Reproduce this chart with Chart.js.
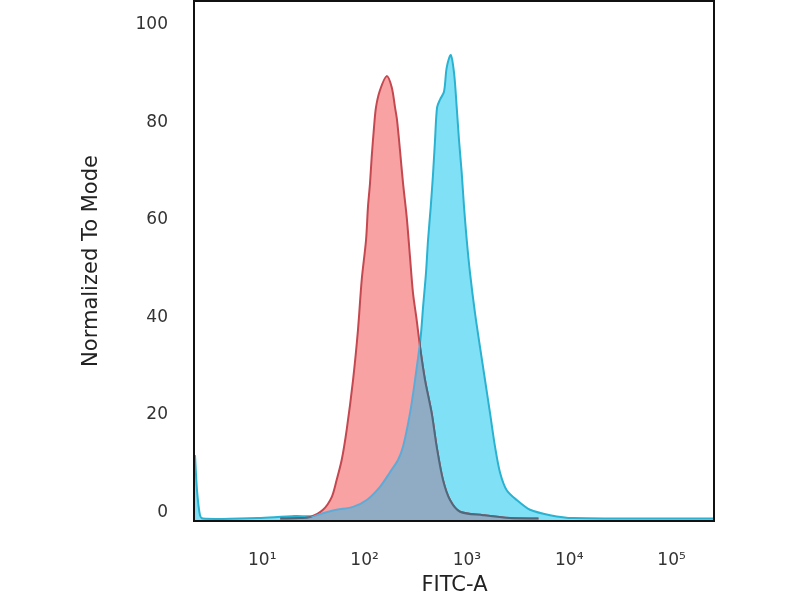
<!DOCTYPE html>
<html lang="en">
<head>
  <meta charset="UTF-8">
  <title>FITC-A histogram</title>
  <script src="https://cdn.jsdelivr.net/npm/chart.js"></script>
  <style>
    html, body { margin: 0; padding: 0; background: #fff; }
    #chart { display: block; }
  </style>
</head>
<body>
  <canvas id="chart" width="800" height="600"></canvas>

  <script>
// Isotype control (red) - FITC-A value and normalized count
const redX = [15, 23.4, 29.3, 39.2, 47.7, 53.3, 59.7, 66.8, 77.1, 86.1, 93.7, 103.3, 107.9, 113, 117.3, 123.6,
  129.2, 141.3, 164.4, 184.1, 198.3, 207.5, 221.8, 237.3, 258, 277.9, 297.3, 322.9, 348.1, 389.4, 452.6,
  506.8, 583.8, 683.5, 857, 1436, 2636, 5000];
const redY = [0, 0.1, 0.3, 1.8, 4.4, 7.9, 12.0, 18.2, 28.4, 38.6, 48.9, 57.1, 63.9, 68.8, 74.1, 80.2,
  84.3, 87.8, 90.7, 88.4, 84.3, 81.7, 75.5, 68.8, 61.8, 53.6, 46.2, 40.7, 35.2, 28.4, 21.6,
  14.7, 7.9, 3.8, 1.4, 0.7, 0.1, 0];

// Stained sample (cyan)
const blueX = [2.2, 2.3, 2.46, 2.63, 6.05, 9.08, 20.9, 31.3, 39.2, 53.3, 77.1, 105, 141.3, 177, 212, 237.3,
  277.9, 311, 353, 372.6, 398, 417, 443, 467, 488, 511, 546, 597, 635, 695, 749, 795, 837, 890, 937,
  996, 1073, 1200, 1342, 1503, 1683, 1884, 2109, 2450, 3069, 4140, 6491, 10890, 260000];
const blueY = [13.0, 5.9, 0.7, 0, 0, 0.1, 0.5, 0.5, 1.1, 1.8, 2.4, 3.8, 6.5, 9.5, 12.0, 14.7,
  21.6, 28.4, 37.2, 43.3, 50.3, 57.1, 63.9, 70.8, 77.6, 84.3, 85.9, 87.5, 92.5, 95.0, 91.3, 84.3, 77.6, 70.8, 63.9,
  57.1, 50.3, 42.1, 35.2, 28.4, 21.6, 14.7, 9.4, 5.8, 3.8, 1.8, 0.7, 0.1, 0];

const xTicks = [10, 100, 1000, 10000, 100000];
const yTicks = [0, 20, 40, 60, 80, 100];
const supers = ['⁰', '¹', '²', '³', '⁴', '⁵'];

const toPoints = (xs, ys) => xs.map((x, i) => ({ x: x, y: ys[i] }));

// where the two histograms overlap, paint a grey-blue and re-stroke the edges
const overlap = {
  id: 'overlap',
  afterDatasetsDraw(chart) {
    const ctx = chart.ctx;
    const a = chart.chartArea;
    const red = chart.getDatasetMeta(0).dataset;
    const blue = chart.getDatasetMeta(1).dataset;
    const area = (line) => {
      const pts = line.points;
      ctx.beginPath();
      line.path(ctx);
      ctx.lineTo(pts[pts.length - 1].x, a.bottom);
      ctx.lineTo(pts[0].x, a.bottom);
      ctx.closePath();
    };
    ctx.save();
    ctx.beginPath();
    ctx.rect(a.left, a.top, a.right - a.left, a.bottom - a.top);
    ctx.clip();
    ctx.lineWidth = 2;
    ctx.lineJoin = 'round';

    ctx.save();
    area(red);
    ctx.clip();
    area(blue);
    ctx.fillStyle = 'rgb(143, 172, 196)';
    ctx.fill();
    ctx.restore();

    ctx.save();
    area(blue);
    ctx.clip();
    ctx.beginPath();
    red.path(ctx);
    ctx.strokeStyle = 'rgb(80, 104, 124)';
    ctx.stroke();
    ctx.restore();

    ctx.save();
    area(red);
    ctx.clip();
    ctx.beginPath();
    blue.path(ctx);
    ctx.strokeStyle = 'rgb(96, 170, 214)';
    ctx.stroke();
    ctx.restore();

    ctx.restore();
  }
};

// black frame round the plot
const frame = {
  id: 'frame',
  afterDraw(chart) {
    const a = chart.chartArea;
    const ctx = chart.ctx;
    ctx.save();
    ctx.strokeStyle = '#111';
    ctx.lineWidth = 2;
    ctx.strokeRect(a.left - 1, a.top, a.right - a.left + 1, a.bottom - a.top);
    ctx.restore();
  }
};

new Chart(document.getElementById('chart'), {
  type: 'line',
  data: {
    datasets: [
      {
        label: 'Isotype',
        data: toPoints(redX, redY),
        borderColor: 'rgb(196, 72, 80)',
        backgroundColor: 'rgb(248, 162, 164)',
        borderWidth: 2,
        fill: 'start',
        pointRadius: 0,
        tension: 0.3
      },
      {
        label: 'Sample',
        data: toPoints(blueX, blueY),
        borderColor: 'rgb(42, 178, 208)',
        backgroundColor: 'rgb(128, 224, 246)',
        borderWidth: 2,
        fill: 'start',
        pointRadius: 0,
        tension: 0.3
      }
    ]
  },
  options: {
    responsive: false,
    animation: false,
    layout: { padding: { left: 76, right: 86, top: 1, bottom: 0 } },
    plugins: {
      legend: { display: false },
      tooltip: { enabled: false }
    },
    scales: {
      x: {
        type: 'logarithmic',
        min: 2.2,
        max: 260000,
        grid: { display: false, drawTicks: false },
        border: { display: false },
        afterBuildTicks: (scale) => { scale.ticks = xTicks.map(v => ({ value: v })); },
        afterFit: (scale) => { scale.height = 79; },
        ticks: {
          autoSkip: false,
          maxRotation: 0,
          padding: 29,
          color: '#333',
          font: { family: 'DejaVu Sans', size: 17 },
          callback: (v) => '10' + supers[Math.round(Math.log10(v))]
        },
        title: {
          display: true,
          text: 'FITC-A',
          color: '#222',
          font: { family: 'DejaVu Sans', size: 21 },
          padding: { top: 0, bottom: 2 }
        }
      },
      y: {
        min: -0.5,
        max: 106.1,
        grid: { display: false, drawTicks: false },
        border: { display: false },
        afterBuildTicks: (scale) => { scale.ticks = yTicks.map(v => ({ value: v })); },
        afterFit: (scale) => {
          scale.width = 119;
          scale.paddingTop = 0;
          scale.paddingBottom = 0;
        },
        ticks: {
          padding: 27,
          labelOffset: -6,
          color: '#333',
          font: { family: 'DejaVu Sans', size: 17 }
        },
        title: {
          display: true,
          text: 'Normalized To Mode',
          color: '#222',
          font: { family: 'DejaVu Sans', size: 21 },
          padding: { top: 3, bottom: 0 }
        }
      }
    }
  },
  plugins: [overlap, frame]
});
  </script>
</body>
</html>
